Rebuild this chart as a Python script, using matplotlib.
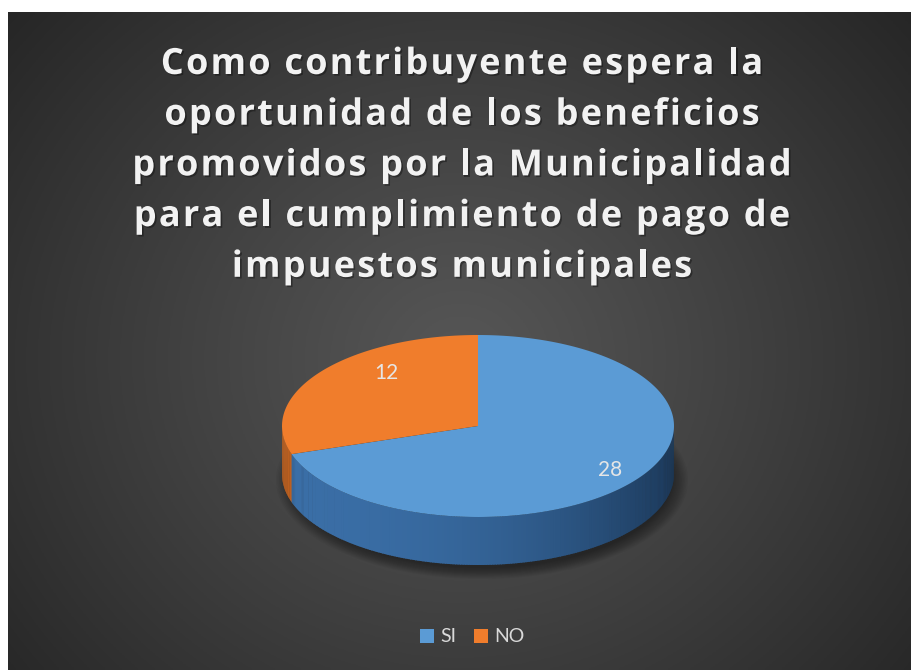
import numpy as np
import matplotlib
matplotlib.use('Agg')
import matplotlib.pyplot as plt
import matplotlib.patheffects as pe
from matplotlib.patches import Polygon, Ellipse, Patch
from matplotlib.font_manager import FontProperties, findfont
from matplotlib.ft2font import FT2Font

# data
labels = ['SI', 'NO']
values = [28, 12]
top_colors = ['#5b9bd5', '#f07d2c']
side_colors_light = ['#3a6ea6', '#c2621f']
side_colors_dark = ['#1c3a5c', '#7a3c12']

title_lines = ["Como contribuyente espera la",
               "oportunidad de los beneficios",
               "promovidos por la Municipalidad",
               "para el cumplimiento de pago de",
               "impuestos municipales"]

W, H = 914, 670
DPI = 100
fig = plt.figure(figsize=(W / DPI, H / DPI), dpi=DPI, facecolor='white')

# chart area in pixel coordinates (y down like the picture)
x0, x1, y0, y1 = 8, 911, 12, 670
ax = fig.add_axes([x0 / W, 0, (x1 - x0) / W, (y1 - y0) / H])
ax.set_xlim(x0, x1)
ax.set_ylim(y1, y0)
ax.axis('off')

# radial gradient background
gx, gy = np.meshgrid(np.linspace(x0, x1, 300), np.linspace(y0, y1, 220))
d = np.sqrt((gx - 460) ** 2 + ((gy - 360) * 1.1) ** 2) / 640
v = 0x56 - (0x56 - 0x22) * np.clip(d, 0, 1) ** 1.1
bg = np.dstack([v, v, v]) / 255
ax.imshow(bg, extent=(x0, x1, y1, y0), aspect='auto', zorder=0)

# 3D pie geometry
cx, cy, a, b, depth = 478, 426, 196, 91, 48

def pt(theta, dy=0.0, r=1.0):
    t = np.radians(theta)
    return cx + r * a * np.cos(t), cy - r * b * np.sin(t) + dy

# slice angles, clockwise from 12 o'clock
total = sum(values)
bounds = []
start = 90.0
for val in values:
    end = start - val / total * 360
    bounds.append((end, start))
    start = end

def slice_of(theta):
    th = theta % 360
    for i, (lo, hi) in enumerate(bounds):
        lo_, hi_ = lo % 360, hi % 360
        if lo_ < hi_:
            if lo_ <= th < hi_:
                return i
        else:
            if th >= lo_ or th < hi_:
                return i
    return 0

# soft shadow below the pie
for k in range(12):
    ax.add_patch(Ellipse((cx + 4, cy + depth + 6), 2 * a + 20 - k * 3, 2 * b + 16 - k * 2,
                         facecolor='black', edgecolor='none', alpha=0.04, zorder=1))

# side wall (front half)
n = 240
ths = np.linspace(180, 360, n + 1)
for i in range(n):
    t0, t1 = ths[i], ths[i + 1]
    k = slice_of((t0 + t1) / 2)
    frac = (np.cos(np.radians((t0 + t1) / 2)) + 1) / 2
    w = frac ** 2.2
    c0 = np.array(matplotlib.colors.to_rgb(side_colors_light[k]))
    c1 = np.array(matplotlib.colors.to_rgb(side_colors_dark[k]))
    col = c0 * (1 - w) + c1 * w
    p = [pt(t0), pt(t1 + 0.3), pt(t1 + 0.3, depth), pt(t0, depth)]
    ax.add_patch(Polygon(p, closed=True, facecolor=col, edgecolor='none', zorder=2))

# top surface
for i, (lo, hi) in enumerate(bounds):
    ang = np.linspace(lo, hi, 200)
    pts = [(cx, cy)] + [pt(t) for t in ang]
    ax.add_patch(Polygon(pts, closed=True, facecolor=top_colors[i], edgecolor='none', zorder=3))

# data labels
label_pos = [(0.83, 0.82), (0.58, 0.99)]
for i, (lo, hi) in enumerate(bounds):
    mid = np.radians((lo + hi) / 2)
    rx, ry = label_pos[i]
    lx = cx + rx * a * np.cos(mid)
    ly = cy - ry * b * np.sin(mid)
    ax.text(lx, ly, str(values[i]), color='#e6e6e6', fontsize=15, family='Lato',
            ha='center', va='center', zorder=4)

# title, drawn char by char to get the wide letter spacing
title_size = 26
spacing = 2.2
fp = FontProperties(family='Open Sans', weight='bold', size=title_size)
font = FT2Font(findfont(fp))
font.set_size(title_size, DPI)

def advance(ch):
    g = font.load_char(ord(ch))
    return g.linearHoriAdvance / 65536

shadow = [pe.withSimplePatchShadow(offset=(1.2, -1.2), shadow_rgbFace='black', alpha=0.35)]
for li, line in enumerate(title_lines):
    baseline = 74 + li * 50.7
    adv = [advance(ch) for ch in line]
    width = sum(adv) + spacing * (len(line) - 1)
    x = 462 - width / 2
    for ch, w in zip(line, adv):
        if ch != ' ':
            fig.text(x / W, 1 - baseline / H, ch, ha='left', va='baseline', color='#f2f2f2',
                     fontproperties=fp, path_effects=shadow)
        x += w + spacing

# legend
handles = [Patch(facecolor=top_colors[i], edgecolor='none', label=labels[i]) for i in range(len(labels))]
leg = fig.legend(handles=handles, loc='center', bbox_to_anchor=(472 / W, 1 - 637 / H), ncol=2,
                 frameon=False, handlelength=0.75, handleheight=0.75,
                 handletextpad=0.3, columnspacing=0.9, labelcolor='#d9d9d9',
                 prop={'family': 'Lato', 'size': 14})

fig.savefig('out.png', dpi=DPI, facecolor='white')
